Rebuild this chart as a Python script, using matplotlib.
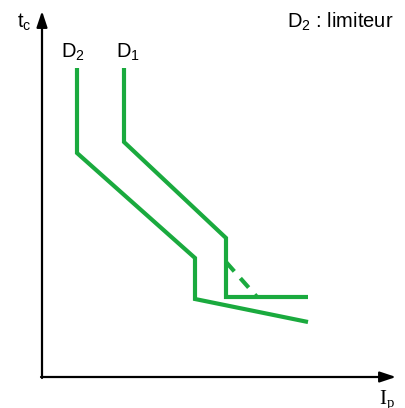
import matplotlib
matplotlib.use("Agg")
import matplotlib.pyplot as plt

# Curve data (pixel-like schematic coordinates, y grows downward)
d2_x = [77, 77, 195, 195, 308]
d2_y = [68, 153, 258, 299, 322]
d1_x = [124, 124, 226, 226, 308]
d1_y = [68, 142, 238, 297, 297]
dash_x = [226, 257]
dash_y = [262, 297]

GREEN = "#1aaa3e"

fig = plt.figure(figsize=(4.05, 4.08), dpi=100)
ax = fig.add_axes([0, 0, 1, 1])
ax.set_xlim(0, 405)
ax.set_ylim(408, 0)
ax.axis("off")

astyle = "-|>,head_length=0.6,head_width=0.2"
# axes arrows
ax.annotate("", xy=(42, 11), xytext=(42, 378),
            arrowprops=dict(arrowstyle=astyle, lw=1.6, color="black", mutation_scale=16,
                            shrinkA=0, shrinkB=0))
ax.annotate("", xy=(396, 377), xytext=(41, 377),
            arrowprops=dict(arrowstyle=astyle, lw=1.6, color="black", mutation_scale=16,
                            shrinkA=0, shrinkB=0))

ax.plot(d2_x, d2_y, color=GREEN, lw=3, solid_joinstyle="miter", solid_capstyle="butt")
ax.plot(d1_x, d1_y, color=GREEN, lw=3, solid_joinstyle="miter", solid_capstyle="butt")
ax.plot(dash_x, dash_y, color=GREEN, lw=3, dashes=(3, 2.2))

font = dict(family=["Liberation Sans", "DejaVu Sans"], fontsize=14.5)
ax.text(17, 28, r"t$_\mathregular{c}$", ha="left", va="baseline", **font)
ax.text(61, 58, r"D$_\mathregular{2}$", ha="left", va="baseline", **font)
ax.text(116, 58, r"D$_\mathregular{1}$", ha="left", va="baseline", **font)
ax.text(287, 28, r"D$_\mathregular{2}$ : limiteur", ha="left", va="baseline", **font)
ax.text(379, 404, r"I$_\mathregular{p}$", ha="left", va="baseline",
        family=["Liberation Serif", "DejaVu Serif"], fontsize=15)

fig.savefig("out.png", dpi=100)
